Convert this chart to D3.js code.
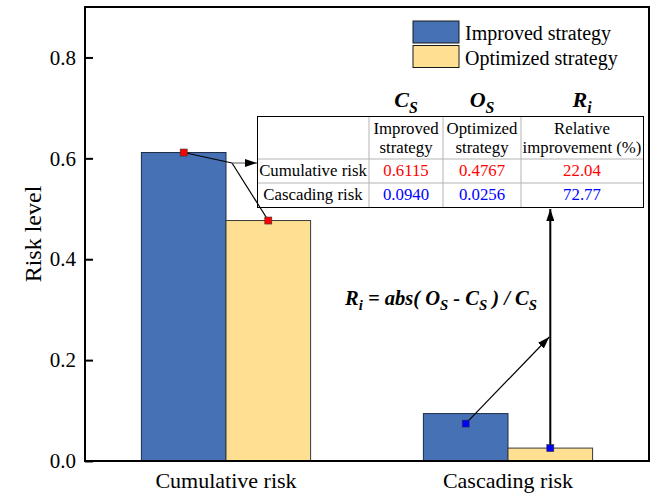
<!DOCTYPE html>
<html lang="en">
<head>
  <meta charset="utf-8">
  <title>Risk level</title>
  <style>
    body { margin: 0; background: #fff; }
    svg, svg text { font-family: "Liberation Serif", "Times New Roman", Times, "DejaVu Serif", serif; }
  </style>
</head>
<body>
  <div id="chart"></div>
  <script src="https://d3js.org/d3.v7.min.js"></script>
  <script>
    // Data
    var categories = ["Cumulative risk", "Cascading risk"];
    var improved = [0.6115, 0.0940];
    var optimized = [0.4767, 0.0256];
    var improvement = [22.04, 72.77];
    var seriesNames = ["Improved strategy", "Optimized strategy"];
    var yTicks = [0, 0.2, 0.4, 0.6, 0.8];
    var rowColors = ["#ff0000", "#0000ff"];

    (function () {
    var W = 656, H = 495;
    var pl = 85, pr = 649, pt = 7, pb = 461;
    var blue = "#4672b5", yellow = "#ffdf91";
    var serif = "'Liberation Serif', 'Times New Roman', Times, 'DejaVu Serif', serif";

    var svg = d3.select("#chart").append("svg")
      .attr("width", W).attr("height", H)
      .attr("font-family", serif);

    var defs = svg.append("defs");
    defs.append("marker")
      .attr("id", "arrow")
      .attr("viewBox", "0 0 12 8")
      .attr("refX", 12).attr("refY", 4)
      .attr("markerWidth", 12).attr("markerHeight", 8)
      .attr("markerUnits", "userSpaceOnUse")
      .attr("orient", "auto")
      .append("path").attr("d", "M0,0 L12,4 L0,8 Z").attr("fill", "#000");

    // scales
    var x = d3.scaleLinear().domain([0.5, 2.5]).range([pl, pr]);
    var y = d3.scaleLinear().domain([0, 0.9]).range([pb, pt]);
    var barW = x(0.3) - x(0);

    // bars
    var g = svg.append("g");
    g.selectAll(".bar-imp").data(improved).enter().append("rect")
      .attr("x", function (d, i) { return x(i + 1) - barW; })
      .attr("y", function (d) { return y(d); })
      .attr("width", barW)
      .attr("height", function (d) { return y(0) - y(d); })
      .attr("fill", blue).attr("stroke", "#1d2c44").attr("stroke-width", 1);
    g.selectAll(".bar-opt").data(optimized).enter().append("rect")
      .attr("x", function (d, i) { return x(i + 1); })
      .attr("y", function (d) { return y(d); })
      .attr("width", barW)
      .attr("height", function (d) { return y(0) - y(d); })
      .attr("fill", yellow).attr("stroke", "#3a3a3a").attr("stroke-width", 1);

    // y axis
    var yAxis = d3.axisLeft(y).tickValues(yTicks).tickSize(-8).tickPadding(9)
      .tickFormat(d3.format(".1f"));
    var ya = svg.append("g").attr("transform", "translate(" + pl + ",0)").call(yAxis);
    ya.attr("font-family", serif).attr("font-size", 21);
    ya.select(".domain").remove();
    ya.selectAll("line").attr("stroke", "#000").attr("stroke-width", 2);
    ya.selectAll("text").attr("fill", "#000");

    // frame
    svg.append("rect")
      .attr("x", pl).attr("y", pt)
      .attr("width", pr - pl).attr("height", pb - pt)
      .attr("fill", "none").attr("stroke", "#000").attr("stroke-width", 2);

    // category labels
    svg.selectAll(".cat").data(categories).enter().append("text")
      .attr("x", function (d, i) { return x(i + 1); })
      .attr("y", 488)
      .attr("text-anchor", "middle")
      .attr("font-size", 22)
      .text(function (d) { return d; });

    // y label
    svg.append("text")
      .attr("transform", "translate(41," + ((pt + pb) / 2) + ") rotate(-90)")
      .attr("text-anchor", "middle")
      .attr("font-size", 24)
      .text("Risk level");

    // legend
    var legend = svg.append("g");
    [blue, yellow].forEach(function (c, i) {
      legend.append("rect")
        .attr("x", 413).attr("y", 21 + i * 24.5)
        .attr("width", 46).attr("height", 22)
        .attr("fill", c).attr("stroke", "#1a1a1a").attr("stroke-width", 1);
      legend.append("text")
        .attr("x", 465).attr("y", 40 + i * 24.5)
        .attr("font-size", 20)
        .text(seriesNames[i]);
    });

    // text made of parts; parts with sub=true are subscripts
    function rich(sel, parts, size) {
      var shift = size * 0.25, down = false;
      parts.forEach(function (p) {
        var ts = sel.append("tspan").text(p.t);
        if (p.sub) {
          ts.attr("font-size", size * 0.72);
          if (!down) { ts.attr("dy", shift); down = true; }
        } else if (down) {
          ts.attr("dy", -shift); down = false;
        }
      });
    }

    // table
    var cols = [257, 369, 443, 521, 643];
    var rows = [116, 159, 183, 207];
    var tbl = svg.append("g").attr("font-size", 16.8);
    tbl.append("rect")
      .attr("x", cols[0]).attr("y", rows[0])
      .attr("width", cols[4] - cols[0]).attr("height", rows[3] - rows[0])
      .attr("fill", "#fff").attr("stroke", "none");
    cols.slice(1, 4).forEach(function (cx) {
      tbl.append("line").attr("x1", cx).attr("x2", cx).attr("y1", rows[0]).attr("y2", rows[3])
        .attr("stroke", "#b4b4b4").attr("stroke-width", 1);
    });
    rows.slice(1, 3).forEach(function (ry) {
      tbl.append("line").attr("x1", cols[0]).attr("x2", cols[4]).attr("y1", ry).attr("y2", ry)
        .attr("stroke", "#b4b4b4").attr("stroke-width", 1);
    });
    tbl.append("rect")
      .attr("x", cols[0] + 0.5).attr("y", rows[0] + 0.5)
      .attr("width", cols[4] - cols[0]).attr("height", rows[3] - rows[0])
      .attr("fill", "none").attr("stroke", "#000").attr("stroke-width", 1);

    var heads = [["Improved", "strategy"], ["Optimized", "strategy"], ["Relative", "improvement (%)"]];
    heads.forEach(function (h, j) {
      var cx = (cols[j + 1] + cols[j + 2]) / 2;
      h.forEach(function (line, k) {
        tbl.append("text").attr("x", cx).attr("y", 134 + k * 19)
          .attr("text-anchor", "middle").text(line);
      });
    });
    var syms = [["C", "S"], ["O", "S"], ["R", "i"]];
    syms.forEach(function (s, j) {
      var cx = (cols[j + 1] + cols[j + 2]) / 2;
      var t = svg.append("text").attr("x", cx).attr("y", 107)
        .attr("text-anchor", "middle").attr("font-size", 22)
        .attr("font-weight", "bold").attr("font-style", "italic");
      rich(t, [{ t: s[0] }, { t: s[1], sub: true }], 22);
    });
    categories.forEach(function (c, i) {
      var by = rows[i + 1] + 17;
      var cells = [c, improved[i].toFixed(4), optimized[i].toFixed(4), improvement[i].toFixed(2)];
      cells.forEach(function (v, j) {
        tbl.append("text").attr("x", (cols[j] + cols[j + 1]) / 2).attr("y", by)
          .attr("text-anchor", "middle")
          .attr("fill", j === 0 ? "#000" : rowColors[i])
          .text(v);
      });
    });

    // formula
    var fs = 20.5;
    var f = svg.append("text").attr("x", 345).attr("y", 305)
      .attr("font-size", fs).attr("font-weight", "bold").attr("font-style", "italic");
    rich(f, [
      { t: "R" }, { t: "i", sub: true }, { t: " = abs( O" }, { t: "S", sub: true },
      { t: " - C" }, { t: "S", sub: true }, { t: " ) / C" }, { t: "S", sub: true }
    ], fs);

    // markers and arrows
    var mk = [
      { x: x(1) - barW / 2, y: y(improved[0]), c: "#ff0000" },
      { x: x(1) + barW / 2, y: y(optimized[0]), c: "#ff0000" },
      { x: x(2) - barW / 2, y: y(improved[1]) + 10, c: "#0000ff" },
      { x: x(2) + barW / 2, y: y(optimized[1]), c: "#0000ff" }
    ];
    var junction = { x: 232, y: 163 };
    var arr = svg.append("g").attr("stroke", "#000").attr("fill", "none");
    arr.append("line").attr("x1", mk[0].x).attr("y1", mk[0].y).attr("x2", junction.x).attr("y2", junction.y)
      .attr("stroke-width", 1.2);
    arr.append("line").attr("x1", mk[1].x).attr("y1", mk[1].y).attr("x2", junction.x).attr("y2", junction.y)
      .attr("stroke-width", 1.2);
    arr.append("line").attr("x1", junction.x).attr("y1", junction.y).attr("x2", cols[0]).attr("y2", junction.y)
      .attr("stroke-width", 1).attr("stroke", "#555").attr("marker-end", "url(#arrow)");
    arr.append("line").attr("x1", mk[2].x).attr("y1", mk[2].y).attr("x2", mk[3].x - 1).attr("y2", 337)
      .attr("stroke-width", 1.2).attr("marker-end", "url(#arrow)");
    arr.append("line").attr("x1", mk[3].x).attr("y1", mk[3].y).attr("x2", mk[3].x).attr("y2", rows[3] + 2)
      .attr("stroke-width", 2).attr("marker-end", "url(#arrow)");

    svg.selectAll(".pt").data(mk).enter().append("rect")
      .attr("x", function (d) { return d.x - 3.5; })
      .attr("y", function (d) { return d.y - 3.5; })
      .attr("width", 7).attr("height", 7)
      .attr("fill", function (d) { return d.c; })
      .attr("stroke", "#333").attr("stroke-width", 0.6);
    })();
  </script>
</body>
</html>
